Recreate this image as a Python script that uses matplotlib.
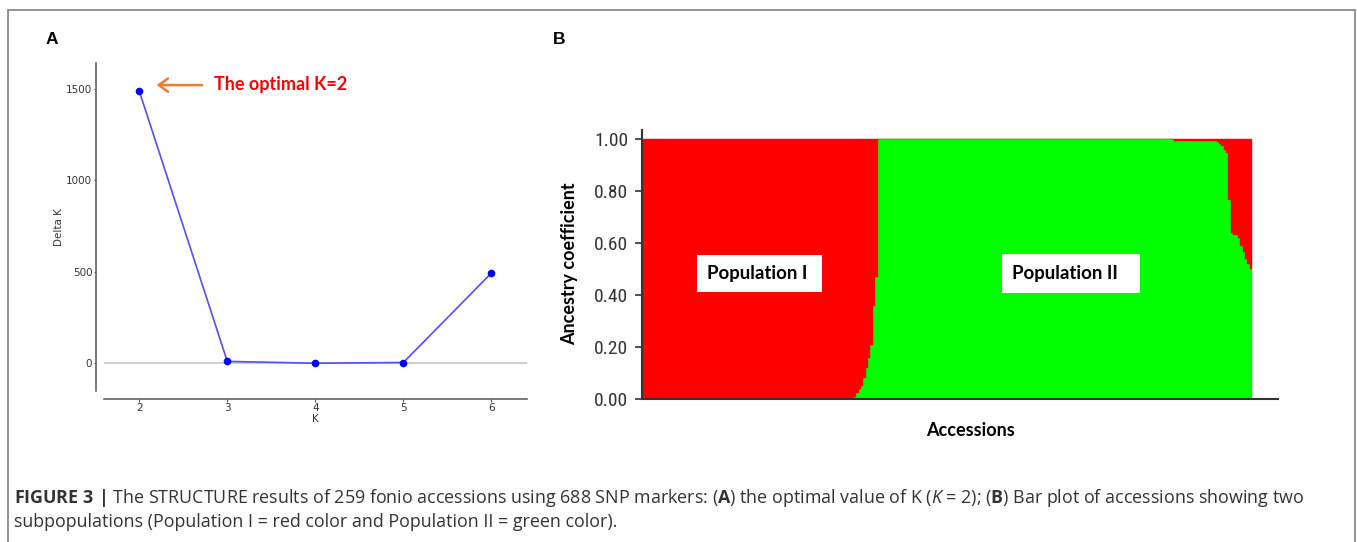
import matplotlib
matplotlib.use("Agg")
import matplotlib.pyplot as plt
from matplotlib.patches import Rectangle
import numpy as np

# Evanno delta K for each tested K
k_values = [2, 3, 4, 5, 6]
delta_k = [1488, 11, 1, 5, 494]

# STRUCTURE Q-matrix (K=2), accessions sorted by membership:
# share of Population II (green), the rest is Population I (red)
pop2_share = ([0.0] * 90
              + [0.01, 0.025, 0.04, 0.05, 0.08, 0.12, 0.16, 0.21, 0.36, 0.47]
              + [1.0] * 126
              + [0.994] * 18
              + [0.988, 0.98, 0.973, 0.96, 0.946, 0.765, 0.64, 0.63, 0.63,
                 0.62, 0.59, 0.565, 0.54, 0.52, 0.50])
n_acc = len(pop2_share)
pop_labels = ["Population I", "Population II"]
ancestry_ticks = [0.0, 0.2, 0.4, 0.6, 0.8, 1.0]

W, H = 1357, 542
CAP_FONT = "Open Sans"
plt.rcParams["mathtext.fontset"] = "custom"
plt.rcParams["mathtext.rm"] = CAP_FONT
plt.rcParams["mathtext.bf"] = CAP_FONT + ":bold"
plt.rcParams["mathtext.it"] = CAP_FONT + ":italic"

fig = plt.figure(figsize=(W / 100, H / 100), dpi=100)


def rect(x0, y0, x1, y1):
    return [x0 / W, 1 - y1 / H, (x1 - x0) / W, (y1 - y0) / H]


def fpos(x, y):
    return x / W, 1 - y / H


# frame round the whole figure
fig.add_artist(Rectangle(fpos(7.5, 560), (1355 - 7.5) / W, (560 - 9.5) / H,
                         transform=fig.transFigure, fill=False,
                         ec="#8a8a8a", lw=1.3))

# ---------------- panel A: delta K ----------------
axA = fig.add_axes(rect(104, 63.3, 526.7, 390.7))
axA.axhline(0, color="#cfcfcf", lw=1.5, zorder=0)
axA.plot(k_values, delta_k, color="#5050ff", lw=1.2, zorder=2)
axA.plot(k_values, delta_k, "o", color="#0000ff", ms=4.5, zorder=3)
axA.set_xlim(1.6, 6.4)
axA.set_ylim(-149, 1639)
axA.set_xticks(k_values)
axA.set_yticks([0, 500, 1000, 1500])
for s in ["top", "right"]:
    axA.spines[s].set_visible(False)
axA.spines["left"].set_position(("outward", 6))
axA.spines["bottom"].set_position(("outward", 6.2))
for s in ["left", "bottom"]:
    axA.spines[s].set_color("#555555")
    axA.spines[s].set_linewidth(1.1)
axA.tick_params(length=1.8, width=0.8, color="#555555", labelsize=7.5,
                labelcolor="#333333", pad=0.6)
axA.set_xlabel("K", fontsize=7.5, color="#333333", labelpad=1)
axA.set_ylabel("Delta K", fontsize=7.5, color="#333333", labelpad=1.5)

axA.annotate("", xy=(2.167, 1520), xytext=(2.747, 1520),
             arrowprops=dict(arrowstyle="->,head_length=0.55,head_width=0.4",
                             color="#ed7d31", lw=1.8, mutation_scale=12))
axA.text(2.853, 1523, "The optimal K=2", color="#ff0000", fontweight="bold",
         family="Lato", fontsize=13, va="center", ha="left")

# ---------------- panel B: ancestry bar plot ----------------
axB = fig.add_axes(rect(642, 130, 1278, 399.3))
x = np.arange(n_acc) + 0.5
g = np.array(pop2_share)
axB.bar(x, g, width=1.0, color="#00ff00", ec="#00ff00", lw=0.3)
axB.bar(x, 1 - g, bottom=g, width=1.0, color="#ff0000", ec="#ff0000", lw=0.3)
axB.set_xlim(0, n_acc * (1278 - 642) / 610)
axB.set_ylim(0, 1.035)
axB.set_xticks([])
axB.set_yticks(ancestry_ticks)
axB.set_yticklabels([f"{t:.2f}" for t in ancestry_ticks],
                    family=["Roboto Condensed", "Liberation Sans Narrow",
                            "DejaVu Sans"],
                    stretch="condensed", fontsize=14, color="#333333")
for s in ["top", "right"]:
    axB.spines[s].set_visible(False)
for s in ["left", "bottom"]:
    axB.spines[s].set_color("#333333")
    axB.spines[s].set_linewidth(1.5)
axB.tick_params(axis="y", length=4.8, width=1.2, color="#333333", pad=5)

# population name boxes
axB.add_patch(Rectangle((23.5, 0.413), 52.8, 0.141, fc="white", ec="none", zorder=4))
axB.add_patch(Rectangle((153.0, 0.407), 58.5, 0.150, fc="white", ec="none", zorder=4))
axB.text(27.6, 0.484, pop_labels[0], family="Lato", fontweight="bold",
         fontsize=13.4, va="center", ha="left", zorder=5)
axB.text(157.3, 0.484, pop_labels[1], family="Lato", fontweight="bold",
         fontsize=13.4, va="center", ha="left", zorder=5)

fig.text(*fpos(570, 263.3), "Ancestry coefficient", rotation=90,
         family="Lato", fontweight="bold", fontsize=13,
         ha="center", va="center")
fig.text(*fpos(970.5, 430.7), "Accessions", family="Lato", fontweight="bold",
         fontsize=13, ha="center", va="center")

# panel letters
fig.text(*fpos(46, 39.3), "A", family="Liberation Sans", fontweight="bold",
         fontsize=12.5, ha="left", va="center")
fig.text(*fpos(552.7, 39), "B", family="Liberation Sans", fontweight="bold",
         fontsize=12.5, ha="left", va="center")

# caption
cap1 = (r"$\mathbf{FIGURE\ 3\ |}$ The STRUCTURE results of 259 fonio accessions "
        r"using 688 SNP markers: ($\mathbf{A}$) the optimal value of K "
        r"($K$ = 2); ($\mathbf{B}$) Bar plot of accessions showing two")
cap2 = "subpopulations (Population I = red color and Population II = green color)."
fig.text(*fpos(14, 503), cap1, family=CAP_FONT, fontsize=12.9,
         color="#333333", ha="left", va="baseline")
fig.text(*fpos(14, 527), cap2, family=CAP_FONT, fontsize=12.9,
         color="#333333", ha="left", va="baseline")

fig.savefig("out.png", dpi=100)
